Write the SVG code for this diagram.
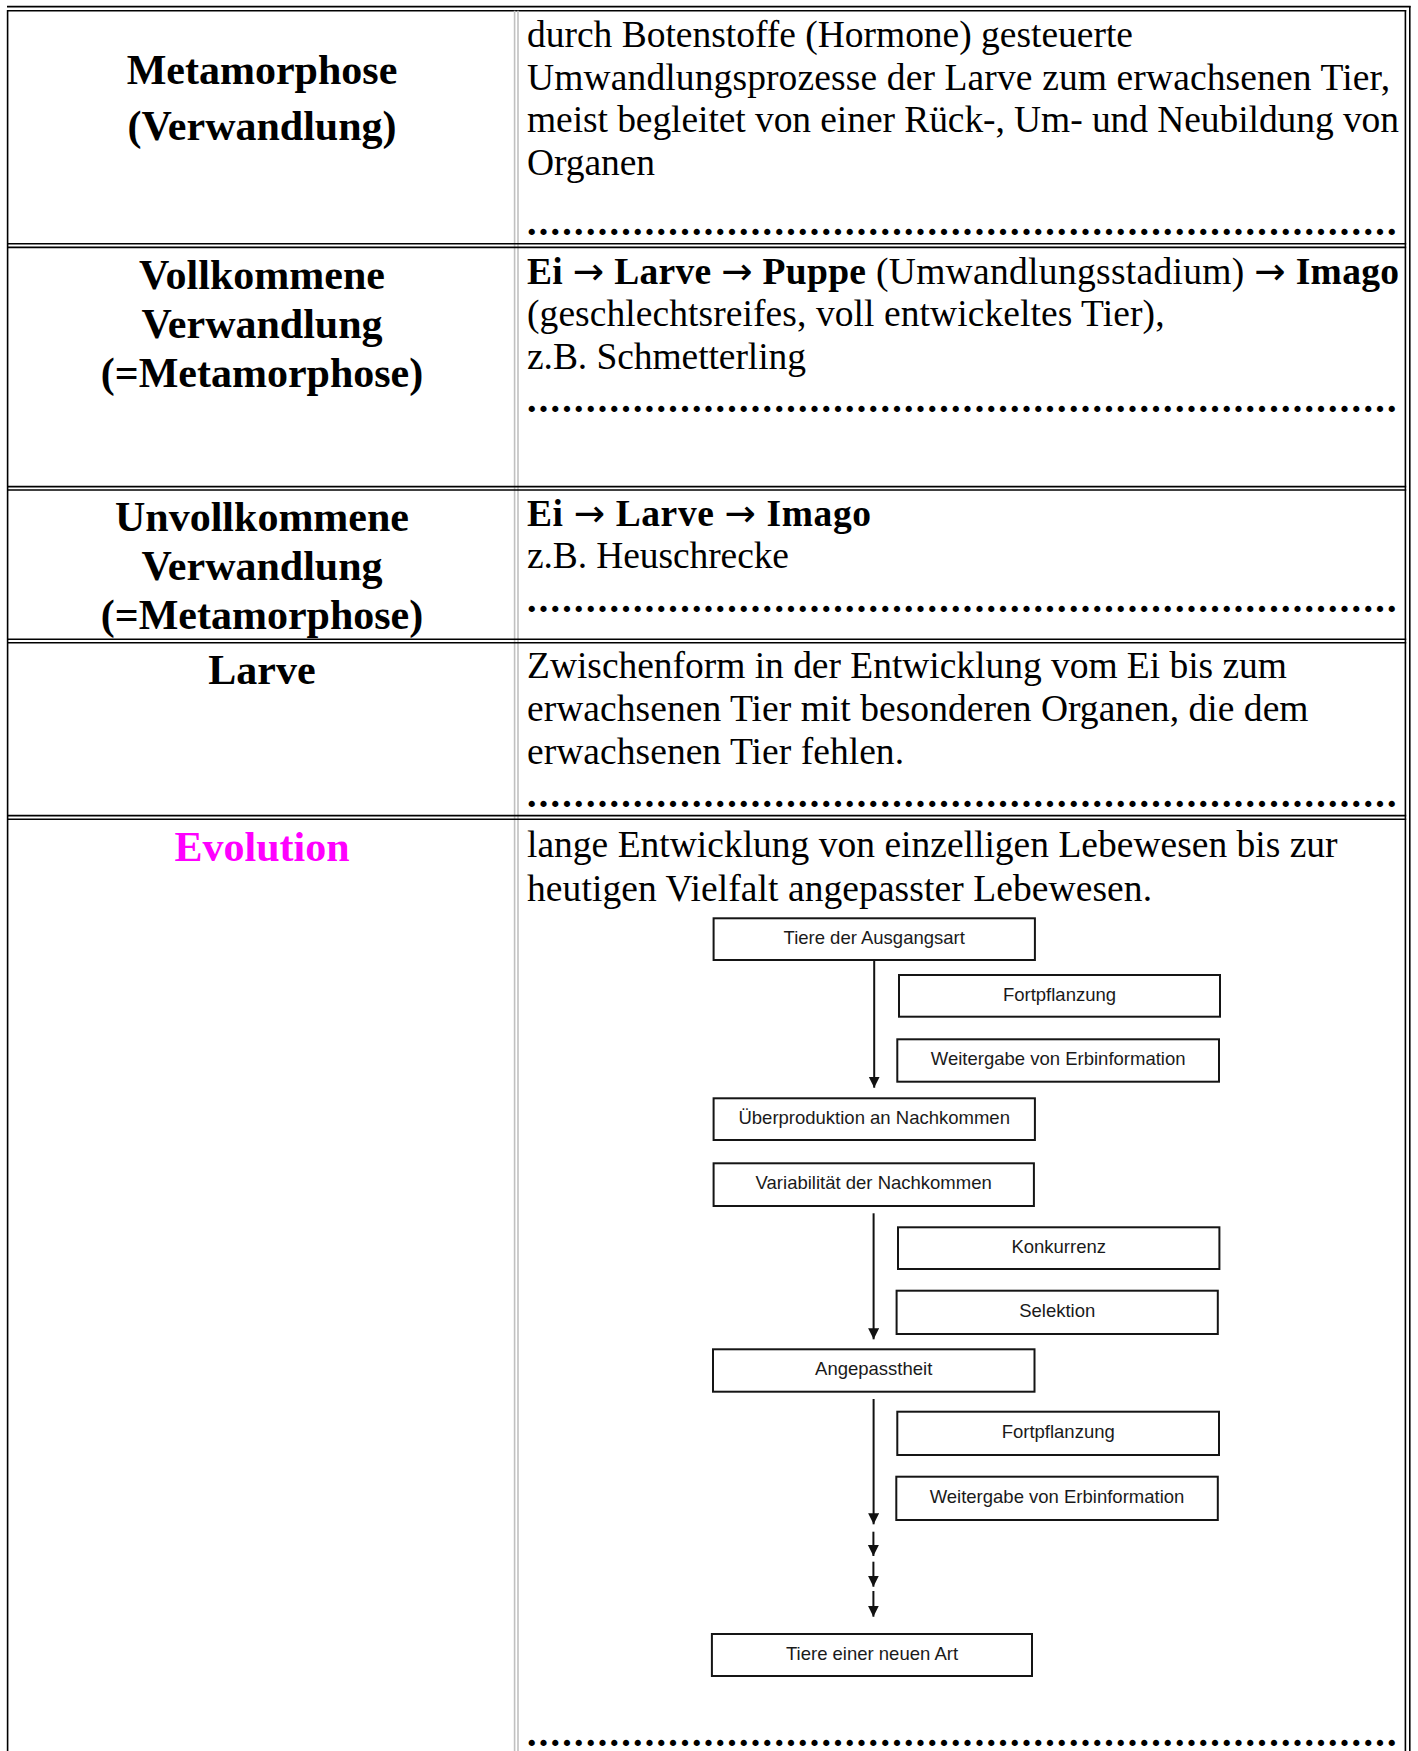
<svg xmlns="http://www.w3.org/2000/svg" width="1418" height="1751" viewBox="0 0 1418 1751">
<style>
.bl{stroke:#000;stroke-width:1.6;fill:none}
.gr{stroke:#c0c0c0;stroke-width:1.6;fill:none}
.hd{font-family:"Liberation Serif","Times New Roman",serif;font-weight:bold;font-size:42px;text-anchor:middle;fill:#000}
.tx{font-family:"Liberation Serif","Times New Roman",serif;font-size:37.5px;fill:#000}
.b{font-weight:bold}
.ar{font-family:"DejaVu Sans",sans-serif;font-weight:normal}
.dots{font-family:"Liberation Serif","Times New Roman",serif;font-weight:bold;font-size:38px;letter-spacing:2.28px;fill:#000}
.box{fill:#fff;stroke:#151515;stroke-width:2}
.bt{font-family:"Liberation Sans",Arial,sans-serif;font-size:18.5px;text-anchor:middle;fill:#1a1a1a}
.con{stroke:#111;stroke-width:2;fill:none}
</style>
<defs>
<marker id="ah" markerUnits="userSpaceOnUse" markerWidth="12" markerHeight="12" refX="11" refY="5.5" orient="auto">
<path d="M0,0 L11,5.5 L0,11 z" fill="#111"/>
</marker>
</defs>
<rect x="0" y="0" width="1418" height="1751" fill="#fff"/>
<g id="table">
<line class="bl" x1="7" y1="6.6" x2="1410.6" y2="6.6"/>
<line class="bl" x1="1409.8" y1="6" x2="1409.8" y2="1751"/>
<line class="bl" x1="7" y1="10.8" x2="1406.2" y2="10.8"/>
<line class="bl" x1="7.6" y1="10" x2="7.6" y2="1751"/>
<line class="bl" x1="1405.4" y1="10" x2="1405.4" y2="1751"/>
<line class="gr" x1="514.6" y1="10.8" x2="514.6" y2="1751"/>
<line class="gr" x1="518" y1="10.8" x2="518" y2="1751"/>
<line class="bl" x1="7" y1="243.8" x2="1406.2" y2="243.8"/>
<line class="bl" x1="7" y1="247.4" x2="1406.2" y2="247.4"/>
<line class="bl" x1="7" y1="486.6" x2="1406.2" y2="486.6"/>
<line class="bl" x1="7" y1="490" x2="1406.2" y2="490"/>
<line class="bl" x1="7" y1="639.2" x2="1406.2" y2="639.2"/>
<line class="bl" x1="7" y1="642.8" x2="1406.2" y2="642.8"/>
<line class="bl" x1="7" y1="815.6" x2="1406.2" y2="815.6"/>
<line class="bl" x1="7" y1="819.2" x2="1406.2" y2="819.2"/>
</g>
<g id="row-metamorphose">
<text class="hd" x="262" y="84">Metamorphose</text>
<text class="hd" x="262" y="140">(Verwandlung)</text>
<text class="tx" x="527" y="47" textLength="606" lengthAdjust="spacing">durch Botenstoffe (Hormone) gesteuerte</text>
<text class="tx" x="527" y="89.6" textLength="863" lengthAdjust="spacing">Umwandlungsprozesse der Larve zum erwachsenen Tier,</text>
<text class="tx" x="527" y="132.2" textLength="872" lengthAdjust="spacing">meist begleitet von einer Rück-, Um- und Neubildung von</text>
<text class="tx" x="527" y="175" textLength="128" lengthAdjust="spacing">Organen</text>
<text class="dots" x="527" y="235.3">..........................................................................</text>
</g>
<g id="row-vollkommen">
<text class="hd" x="262" y="288.6">Vollkommene</text>
<text class="hd" x="262" y="337.7">Verwandlung</text>
<text class="hd" x="262" y="386.9">(=Metamorphose)</text>
<text class="tx" x="527" y="283.6" textLength="872" lengthAdjust="spacing"><tspan class="b">Ei <tspan class="ar">→</tspan> Larve <tspan class="ar">→</tspan> Puppe</tspan> (Umwandlungsstadium) <tspan class="ar">→</tspan> <tspan class="b">Imago</tspan></text>
<text class="tx" x="527" y="326.2" textLength="637.5" lengthAdjust="spacing">(geschlechtsreifes, voll entwickeltes Tier),</text>
<text class="tx" x="527" y="368.7" textLength="279" lengthAdjust="spacing">z.B. Schmetterling</text>
<text class="dots" x="527" y="411.5">..........................................................................</text>
</g>
<g id="row-unvollkommen">
<text class="hd" x="262" y="531">Unvollkommene</text>
<text class="hd" x="262" y="580">Verwandlung</text>
<text class="hd" x="262" y="629">(=Metamorphose)</text>
<text class="tx b" x="527" y="525.8" textLength="344" lengthAdjust="spacing">Ei <tspan class="ar">→</tspan> Larve <tspan class="ar">→</tspan> Imago</text>
<text class="tx" x="527" y="567.8" textLength="262" lengthAdjust="spacing">z.B. Heuschrecke</text>
<text class="dots" x="527" y="611.5">..........................................................................</text>
</g>
<g id="row-larve">
<text class="hd" x="262" y="684">Larve</text>
<text class="tx" x="527" y="677.7" textLength="760" lengthAdjust="spacing">Zwischenform in der Entwicklung vom Ei bis zum</text>
<text class="tx" x="527" y="720.7" textLength="781.5" lengthAdjust="spacing">erwachsenen Tier mit besonderen Organen, die dem</text>
<text class="tx" x="527" y="763.7" textLength="377" lengthAdjust="spacing">erwachsenen Tier fehlen.</text>
<text class="dots" x="527" y="806.5">..........................................................................</text>
</g>
<g id="row-evolution">
<text class="hd" x="262" y="861" style="fill:#ff00ff">Evolution</text>
<text class="tx" x="527" y="857.3" textLength="810.6" lengthAdjust="spacing">lange Entwicklung von einzelligen Lebewesen bis zur</text>
<text class="tx" x="527" y="900.9" textLength="625" lengthAdjust="spacing">heutigen Vielfalt angepasster Lebewesen.</text>
<text class="dots" x="527" y="1745.5">..........................................................................</text>
</g>
<g id="connectors">
<line class="con" x1="874.2" y1="960" x2="874.2" y2="1087.7" marker-end="url(#ah)"/>
<line class="con" x1="873.6" y1="1213.3" x2="873.6" y2="1339.3" marker-end="url(#ah)"/>
<line class="con" x1="873.6" y1="1399" x2="873.6" y2="1524.3" marker-end="url(#ah)"/>
<line class="con" x1="873.4" y1="1531.7" x2="873.4" y2="1556" marker-end="url(#ah)"/>
<line class="con" x1="873.4" y1="1561.7" x2="873.4" y2="1586.7" marker-end="url(#ah)"/>
<line class="con" x1="873.4" y1="1591" x2="873.4" y2="1616.7" marker-end="url(#ah)"/>
</g>
<g id="n1"><rect class="box" x="713.6" y="918.3" width="321.3" height="41.7"/><text class="bt" x="874.2" y="943.8">Tiere der Ausgangsart</text></g>
<g id="n2"><rect class="box" x="899" y="975" width="321" height="41.7"/><text class="bt" x="1059.5" y="1000.6">Fortpflanzung</text></g>
<g id="n3"><rect class="box" x="897.3" y="1039.3" width="321.7" height="42.4"/><text class="bt" x="1058.2" y="1065.1">Weitergabe von Erbinformation</text></g>
<g id="n4"><rect class="box" x="713.6" y="1098.3" width="321.3" height="41.7"/><text class="bt" x="874.2" y="1123.8">Überproduktion an Nachkommen</text></g>
<g id="n5"><rect class="box" x="713.6" y="1163.3" width="320.3" height="42.7"/><text class="bt" x="873.7" y="1189.3">Variabilität der Nachkommen</text></g>
<g id="n6"><rect class="box" x="898" y="1227.3" width="321.4" height="41.7"/><text class="bt" x="1058.7" y="1252.8">Konkurrenz</text></g>
<g id="n7"><rect class="box" x="896.6" y="1290.7" width="321.2" height="43.3"/><text class="bt" x="1057.2" y="1317">Selektion</text></g>
<g id="n8"><rect class="box" x="713" y="1349.3" width="321.5" height="42.4"/><text class="bt" x="873.7" y="1375.1">Angepasstheit</text></g>
<g id="n9"><rect class="box" x="897.3" y="1411.7" width="321.7" height="43.3"/><text class="bt" x="1058.2" y="1438">Fortpflanzung</text></g>
<g id="n10"><rect class="box" x="896.3" y="1476.7" width="321.5" height="43.3"/><text class="bt" x="1057" y="1503">Weitergabe von Erbinformation</text></g>
<g id="n11"><rect class="box" x="711.9" y="1634" width="320.1" height="42"/><text class="bt" x="872" y="1659.7">Tiere einer neuen Art</text></g>
</svg>
